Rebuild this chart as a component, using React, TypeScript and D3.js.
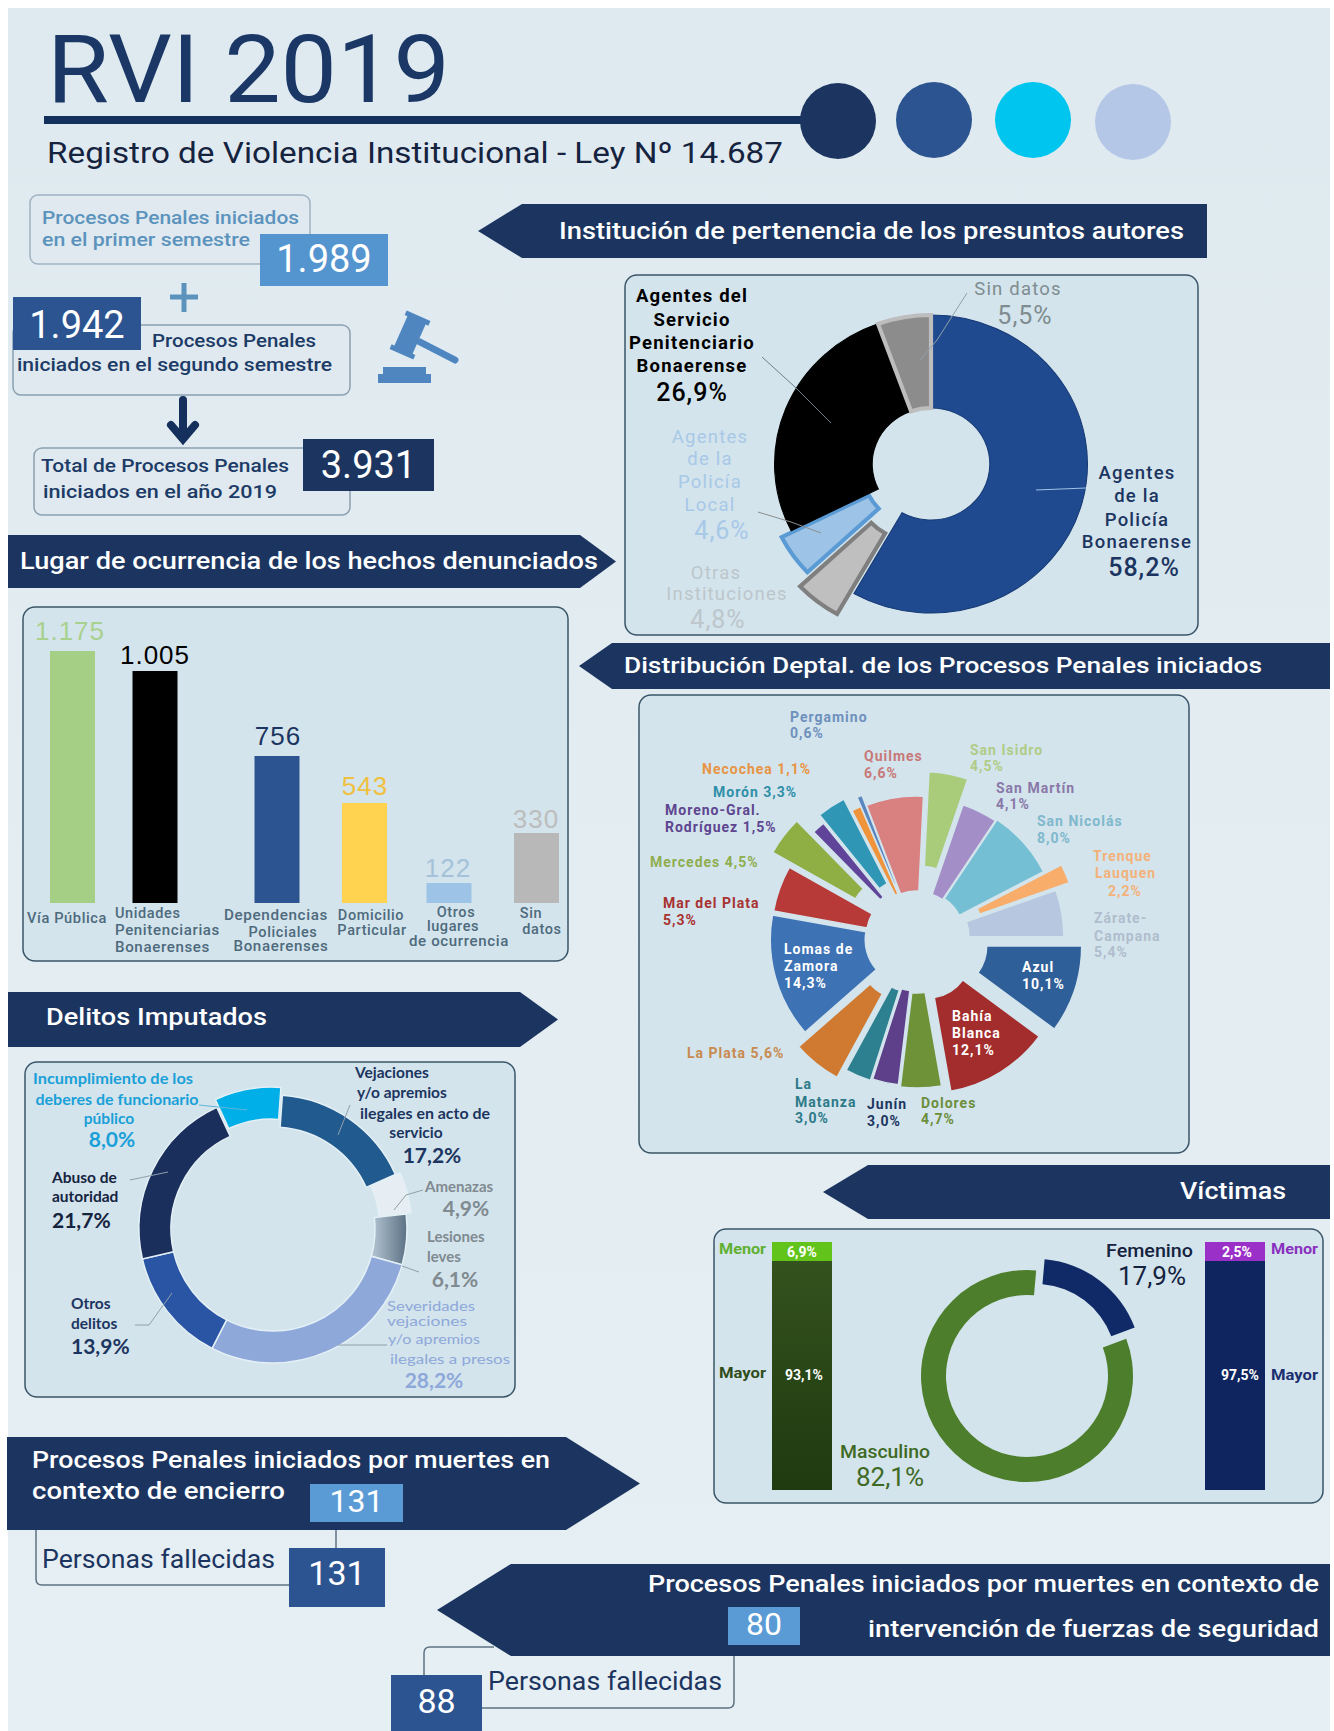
import React from 'react';
import * as d3 from 'd3';

// ---- data read from the infographic ----
const semester1 = 1989;
const semester2 = 1942;
const totalCases = 3931;
const deathsCustody = [131, 131];
const deathsForces = [80, 88];

const authorNames = ['Policía Bonaerense', 'Otras Instituciones', 'Policía Local', 'Servicio Penitenciario', 'Sin datos'];
const authorValues = [58.2, 4.8, 4.6, 26.9, 5.5];
const authorFill = ['#1f4a8f', '#bfbfbf', '#9dc3e6', '#000000', '#8c8c8c'];
const authorStroke = ['#173a75', '#7f7f7f', '#5b9bd5', '#000000', '#bdbdbd'];
const authorExplode = [0, 26, 11, 0, 0];

const placeNames = ['Vía Pública', 'Unidades', 'Dependencias', 'Domicilio', 'Otros', 'Sin datos'];
const placeValues = [1175, 1005, 756, 543, 122, 330];
const placeFill = ['#a4cf85', '#000000', '#2c5491', '#ffd34f', '#9dc3e6', '#b8b8b8'];
const placeText = ['#a9d18e', '#000000', '#1c3560', '#f0c040', '#a5c2da', '#bdbdbd'];

const deptNames = ['Azul', 'Bahía Blanca', 'Dolores', 'Junín', 'La Matanza', 'La Plata', 'Lomas de Zamora', 'Mar del Plata', 'Mercedes', 'Moreno-Gral. Rodríguez', 'Morón', 'Necochea', 'Pergamino', 'Quilmes', 'San Isidro', 'San Martín', 'San Nicolás', 'Trenque Lauquen', 'Zárate-Campana'];
const deptValues = [10.1, 12.1, 4.7, 3.0, 3.0, 5.6, 14.3, 5.3, 4.5, 1.5, 3.3, 1.1, 0.6, 6.6, 4.5, 4.1, 8.0, 2.2, 5.4];
const deptFill = ['#2f5f98', '#a32d2c', '#6e9238', '#5d3f8a', '#2d8090', '#cf7a30', '#3d72b5', '#b83a38', '#8fae44', '#60449a', '#2f97b5', '#f0943c', '#5a86c0', '#d98080', '#a9cc7a', '#a48ec8', '#75bfd4', '#f9ad6a', '#b7c7e0'];
const deptExplode = [26, 18, 10, 8, 10, 21, 7, 6, 28, 8, 17, 3, 13, 2, 27, 1, 3, 22, 7];

const crimeNames = ['Vejaciones', 'Amenazas', 'Lesiones leves', 'Severidades', 'Otros delitos', 'Abuso de autoridad', 'Incumplimiento'];
const crimeValues = [17.2, 4.9, 6.1, 28.2, 13.9, 21.7, 8.0];
const crimeFill = ['#215a8e', '#e6edf3', 'url(#lesiones)', '#8ea8da', '#2a55a5', '#1a2f5c', '#00aee8'];
const crimeExplode = [0, 5, 0, 0, 0, 0, 8];

const genderValues = [82.1, 17.9];
const genderFill = ['#4d7e2b', '#0f2a66'];
const genderExplode = [0, 14];
const ageMen = [6.9, 93.1];
const ageWomen = [2.5, 97.5];

// ---- formats ----
const locale = d3.formatLocale({ decimal: ',', thousands: '.', grouping: [3], currency: ['$', ''] });
const fmtInt = locale.format(',d');
const fmtPct = (v: number) => locale.format('.1f')(v) + '%';

const NAVY = '#1c3560';
const FONT = 'Roboto';
const LATO = 'Lato';
const PANEL = '#d3e4ec';

const T = ({ x, y, w, s = 16, c = NAVY, a = 'start', b = 400, f = FONT, ls, children }: any) => (
  <text x={x} y={y} fontSize={s} fill={c} textAnchor={a} fontWeight={b} fontFamily={f} letterSpacing={ls}
    textLength={w} lengthAdjust={w ? 'spacingAndGlyphs' : undefined}>{children}</text>
);

// rows are [text, x, y] or [text, x, y, width]
const Rows = ({ rows, ...rest }: any) => rows.map((r: any, i: number) => (
  <T key={i} x={r[1]} y={r[2]} w={r[3]} {...rest}>{r[0]}</T>
));

const Panel = ({ x, y, w, h, stroke = '#3a5568', fill = PANEL, r = 12 }: any) => (
  <rect x={x} y={y} width={w} height={h} rx={r} fill={fill} stroke={stroke} strokeWidth={1.5} />
);

const NumBox = ({ x, y, w, h, fill, value, size = 38, base }: any) => (
  <g>
    <rect x={x} y={y} width={w} height={h} fill={fill} />
    <text x={x + w / 2} y={base} fontSize={size} fill="#fff" textAnchor="middle" fontFamily={FONT}>{value}</text>
  </g>
);

// dir = 1 points right, dir = -1 points left
const Banner = ({ x0, x1, y0, y1, tip, dir }: any) => {
  const ym = (y0 + y1) / 2;
  const pts = dir > 0
    ? [[x0, y0], [tip, y0], [x1, ym], [tip, y1], [x0, y1]]
    : [[x1, y0], [x1, y1], [tip, y1], [x0, ym], [tip, y0]];
  return <polygon points={pts.map(p => p.join(',')).join(' ')} fill={NAVY} />;
};

const Leader = ({ d, c = '#8fa0ad', w = 1 }: any) => (
  <polyline points={d.map((p: number[]) => p.join(',')).join(' ')} fill="none" stroke={c} strokeWidth={w} />
);

const makeSlices = (values: number[], startDeg: number) =>
  d3.pie<number>().value(d => d).sort(null)
    .startAngle((startDeg * Math.PI) / 180)
    .endAngle((startDeg * Math.PI) / 180 + 2 * Math.PI)(values);

const shift = (s: any, e: number) => {
  const m = (s.startAngle + s.endAngle) / 2;
  return `translate(${Math.sin(m) * e},${-Math.cos(m) * e})`;
};

// ---- bars: the original's bars aren't drawn to scale, so the scale runs through each of them ----
const barX = d3.scaleOrdinal<string, number>().domain(placeNames).range([50, 132.5, 254.5, 342, 426.5, 514]);
const barH = d3.scaleLinear().domain([0, 122, 330, 543, 756, 1005, 1175]).range([0, 20, 70, 100, 147, 232, 252]);
const BAR_BASE = 903;
const BAR_W = 45;
const barLabelX = [70, 155, 278, 365, 448, 536];
const barLabelGap = [11, 7, 11, 8, 6, 5];

// same for the age columns: both "Menor" bands have the same height in the original
const ageY = d3.scaleLinear().domain([0, 2.5, 6.9, 100]).range([1490, 1471, 1471, 1242]);

const authorArc = d3.arc<any>().innerRadius(56).outerRadius(149);
const deptArc = d3.arc<any>().innerRadius(45).outerRadius(140);
const crimeArc = d3.arc<any>().innerRadius(102).outerRadius(134);
const genderArc = d3.arc<any>().innerRadius(81).outerRadius(106);

const deptLabels = [
  { c: '#6e90bd', rows: [['Pergamino', 790, 722], [fmtPct(deptValues[12]), 790, 738]] },
  { c: '#b0cc86', rows: [['San Isidro', 970, 755], [fmtPct(deptValues[14]), 970, 771]] },
  { c: '#c87878', rows: [['Quilmes', 864, 761], [fmtPct(deptValues[13]), 864, 778]] },
  { c: '#8a78a8', rows: [['San Martín', 996, 793], [fmtPct(deptValues[15]), 996, 809]] },
  { c: '#e89444', rows: [['Necochea ' + fmtPct(deptValues[11]), 702, 774]] },
  { c: '#2f8fa8', rows: [['Morón ' + fmtPct(deptValues[10]), 713, 797]] },
  { c: '#5d4590', rows: [['Moreno-Gral.', 665, 815], ['Rodríguez ' + fmtPct(deptValues[9]), 665, 832]] },
  { c: '#7fb8cc', rows: [['San Nicolás', 1037, 826], [fmtPct(deptValues[16]), 1037, 843]] },
  { c: '#8fae50', rows: [['Mercedes ' + fmtPct(deptValues[8]), 650, 867]] },
  { c: '#f3b27a', rows: [['Trenque', 1093, 861], ['Lauquen', 1095, 878], [fmtPct(deptValues[17]), 1108, 896]] },
  { c: '#a83232', rows: [['Mar del Plata', 663, 908], [fmtPct(deptValues[7]), 663, 925]] },
  { c: '#b0bdcc', rows: [['Zárate-', 1094, 923], ['Campana', 1094, 941], [fmtPct(deptValues[18]), 1094, 957]] },
  { c: '#ffffff', rows: [['Lomas de', 784, 954], ['Zamora', 784, 971], [fmtPct(deptValues[6]), 784, 988]] },
  { c: '#ffffff', rows: [['Azul', 1022, 972], [fmtPct(deptValues[0]), 1022, 989]] },
  { c: '#ffffff', rows: [['Bahía', 952, 1021], ['Blanca', 952, 1038], [fmtPct(deptValues[1]), 952, 1055]] },
  { c: '#c98a50', rows: [['La Plata ' + fmtPct(deptValues[5]), 687, 1058]] },
  { c: '#2d7a88', rows: [['La', 795, 1089], ['Matanza', 795, 1107], [fmtPct(deptValues[4]), 795, 1123]] },
  { c: '#1c3560', rows: [['Junín', 867, 1109], [fmtPct(deptValues[3]), 867, 1126]] },
  { c: '#6b8e3c', rows: [['Dolores', 921, 1108], [fmtPct(deptValues[2]), 921, 1124]] },
];

export default function App() {
  const authorSlices = makeSlices(authorValues, 0);
  const deptSlices = makeSlices(deptValues, 90);
  const crimeSlices = makeSlices(crimeValues, 4);
  const genderSlices = makeSlices(genderValues, 69.4);

  return (
    <svg width={1334} height={1731} style={{ position: 'absolute', left: 0, top: 0, background: '#fff' }}>
      <defs>
        <linearGradient id="bg" x1="0" x2="0" y1="0" y2="1">
          <stop offset="0" stopColor="#dfeaf0" />
          <stop offset="1" stopColor="#e6eff3" />
        </linearGradient>
        <linearGradient id="lesiones" x1="0" x2="1" y1="0" y2="0">
          <stop offset="0" stopColor="#b4c6d3" />
          <stop offset="1" stopColor="#5c7184" />
        </linearGradient>
        <linearGradient id="mayorGreen" x1="0" x2="0" y1="0" y2="1">
          <stop offset="0" stopColor="#35541e" />
          <stop offset="1" stopColor="#1f3a10" />
        </linearGradient>
      </defs>
      <rect x={8} y={8} width={1322} height={1723} fill="url(#bg)" />

      {/* header */}
      <T x={47} y={102} s={95} w={403} c="#1a3766">RVI 2019</T>
      <rect x={44} y={116} width={780} height={8} fill="#14305c" />
      {['#1c3560', '#2c5491', '#00c5ee', '#b4c7e7'].map((c, i) => (
        <circle key={c} cx={[838, 934, 1033, 1133][i]} cy={[121, 120, 120, 122][i]} r={38} fill={c} />
      ))}
      <T x={47} y={163} s={30} w={736} c="#15233f">Registro de Violencia Institucional - Ley Nº 14.687</T>

      {/* totals */}
      <Panel x={30} y={195} w={280} h={69} r={8} fill="#dfe9ef" stroke="#9fb3c2" />
      <Rows rows={[['Procesos Penales iniciados', 42, 224, 257], ['en el primer semestre', 42, 246, 208]]} s={18} b={500} c="#5b93bd" />
      <NumBox x={260} y={234} w={128} h={52} fill="#5494cf" value={fmtInt(semester1)} base={272} />
      <path d="M170 297H198M184 283V312" stroke="#5b93bd" strokeWidth={5} fill="none" />

      <Panel x={13} y={325} w={337} h={70} r={8} fill="#dfe9ef" stroke="#8ba0b0" />
      <NumBox x={13} y={297} w={128} h={53} fill="#2c5491" value={fmtInt(semester2)} base={338} />
      <Rows rows={[['Procesos Penales', 152, 347, 164], ['iniciados en el segundo semestre', 17, 371, 315]]} s={18} b={500} c="#1c3b66" />

      <path d="M183 400V438M171 425L183 439L195 425" stroke="#15305c" strokeWidth={8} fill="none" strokeLinecap="round" />

      <Panel x={34} y={448} w={316} h={67} r={8} fill="#dfe9ef" stroke="#8ba0b0" />
      <NumBox x={303} y={439} w={131} h={52} fill={NAVY} value={fmtInt(totalCases)} base={478} />
      <Rows rows={[['Total de Procesos Penales', 41, 472, 248], ['iniciados en el año 2019', 43, 498, 234]]} s={18} b={500} c="#1c3b66" />

      {/* gavel */}
      <g fill="#4f86c0">
        <rect x={378} y={374} width={53} height={9} />
        <rect x={383} y={367} width={43} height={7} />
        <g transform="translate(410,335) rotate(24)">
          <rect x={-10} y={-18} width={20} height={36} />
          <rect x={-13} y={-21} width={26} height={5} />
          <rect x={-13} y={16} width={26} height={5} />
        </g>
        <line x1={420} y1={342} x2={455} y2={360} stroke="#4f86c0" strokeWidth={7} strokeLinecap="round" />
      </g>

      {/* authors */}
      <Banner x0={478} x1={1207} y0={204} y1={258} tip={522} dir={-1} />
      <T x={559} y={239} s={23} w={625} c="#fff" b={500}>Institución de pertenencia de los presuntos autores</T>
      <Panel x={625} y={275} w={573} h={360} />
      <g transform="translate(931,464) scale(1.05,1)">
        {authorSlices.map((s, i) => (
          <path key={authorNames[i]} d={authorArc(s) as string} transform={shift(s, authorExplode[i])}
            fill={authorFill[i]} stroke={authorStroke[i]} strokeWidth={i === 1 || i === 2 || i === 4 ? 4 : 1} />
        ))}
      </g>
      <Leader d={[[1036, 490], [1086, 488]]} c="#9dc3e6" />
      <Leader d={[[967, 293], [937, 340], [920, 360]]} />
      <Leader d={[[762, 357], [795, 387], [831, 423]]} c="#6f7f8a" />
      <Leader d={[[758, 512], [791, 522], [821, 533]]} c="#8b8f90" />
      <Rows rows={[['Agentes del', 692, 302], ['Servicio', 692, 326], ['Penitenciario', 692, 349], ['Bonaerense', 692, 372]]} s={18.5} ls={1.2} b={700} c="#000" a="middle" />
      <T x={692} y={401} s={25} ls={1} c="#000" a="middle" b={500}>{fmtPct(authorValues[3])}</T>
      <T x={1018} y={295} s={18.5} ls={1.2} c="#7f8c90" a="middle">Sin datos</T>
      <T x={1025} y={324} s={25} ls={1} c="#7f8c90" a="middle">{fmtPct(authorValues[4])}</T>
      <Rows rows={[['Agentes', 710, 443], ['de la', 710, 465], ['Policía', 710, 488], ['Local', 710, 511]]} s={18.5} ls={1.2} c="#a8c8e8" a="middle" />
      <T x={722} y={539} s={25} ls={1} c="#a8c8e8" a="middle">{fmtPct(authorValues[2])}</T>
      <Rows rows={[['Otras', 716, 579], ['Instituciones', 727, 600]]} s={18.5} ls={1.2} c="#bcc6cb" a="middle" />
      <T x={718} y={628} s={25} ls={1} c="#bcc6cb" a="middle">{fmtPct(authorValues[1])}</T>
      <Rows rows={[['Agentes', 1137, 479], ['de la', 1137, 502], ['Policía', 1137, 526], ['Bonaerense', 1137, 548]]} s={18.5} ls={1.2} b={500} a="middle" />
      <T x={1144} y={576} s={25} ls={1} a="middle" b={500}>{fmtPct(authorValues[0])}</T>

      {/* places */}
      <Banner x0={8} x1={616} y0={535} y1={588} tip={580} dir={1} />
      <T x={20} y={569} s={23} w={578} c="#fff" b={500}>Lugar de ocurrencia de los hechos denunciados</T>
      <Panel x={23} y={607} w={545} h={354} />
      {placeNames.map((n, i) => (
        <g key={n}>
          <rect x={barX(n)} y={BAR_BASE - barH(placeValues[i])} width={BAR_W} height={barH(placeValues[i])} fill={placeFill[i]} />
          <text x={barLabelX[i]} y={BAR_BASE - barH(placeValues[i]) - barLabelGap[i]} textAnchor="middle" fontSize={26}
            letterSpacing={1} fontFamily="Liberation Sans" fill={placeText[i]}>{fmtInt(placeValues[i])}</text>
        </g>
      ))}
      <Rows s={14.5} b={500} ls={0.6} c="#4e6a7d" rows={[['Vía Pública', 27, 923, 80], ['Unidades', 115, 918], ['Penitenciarias', 115, 935, 105], ['Bonaerenses', 115, 952, 95]]} />
      <Rows s={14.5} b={500} ls={0.6} c="#4e6a7d" a="middle" rows={[
        ['Dependencias', 276, 920, 104], ['Policiales', 283, 937], ['Bonaerenses', 281, 951, 95],
        ['Domicilio', 371, 920], ['Particular', 372, 935], ['Otros', 456, 917], ['lugares', 453, 931],
        ['de ocurrencia', 459, 946, 100], ['Sin', 531, 918], ['datos', 542, 934],
      ]} />

      {/* departments */}
      <Banner x0={579} x1={1330} y0={643} y1={689} tip={612} dir={-1} />
      <T x={624} y={673} s={22} w={638} c="#fff" b={500}>Distribución Deptal. de los Procesos Penales iniciados</T>
      <Panel x={639} y={695} w={550} h={458} />
      <g transform="translate(917,938)">
        {deptSlices.map((s, i) => (
          <path key={deptNames[i]} d={deptArc(s) as string} transform={shift(s, deptExplode[i])}
            fill={deptFill[i]} stroke={PANEL} strokeWidth={1.5} />
        ))}
      </g>
      {deptLabels.map((l, i) => <Rows key={i} rows={l.rows} s={14} ls={1} b={700} c={l.c} />)}

      {/* crimes */}
      <Banner x0={8} x1={558} y0={992} y1={1047} tip={520} dir={1} />
      <T x={46} y={1025} s={23} w={221} c="#fff" b={500}>Delitos Imputados</T>
      <Panel x={25} y={1062} w={490} h={335} />
      <g transform="translate(273,1229)">
        {crimeSlices.map((s, i) => (
          <path key={crimeNames[i]} d={crimeArc(s) as string} transform={shift(s, crimeExplode[i])}
            fill={crimeFill[i]} stroke="#e4f0f6" strokeWidth={1.5} />
        ))}
      </g>
      <Leader d={[[350, 1105], [338, 1135]]} />
      <Leader d={[[130, 1180], [168, 1172]]} />
      <Leader d={[[135, 1325], [149, 1325], [172, 1293]]} />
      <Leader d={[[338, 1345], [387, 1345]]} />
      <Leader d={[[419, 1272], [402, 1266]]} />
      <Leader d={[[423, 1190], [406, 1195], [394, 1210]]} />
      <Leader d={[[199, 1105], [247, 1110]]} c="#5fb6d8" />
      <Rows rows={[['Incumplimiento de los', 113, 1084, 160], ['deberes de funcionario', 117, 1105, 163], ['público', 109, 1124]]} s={15.5} b={700} f={LATO} c="#1aa0d8" a="middle" />
      <T x={112} y={1147} s={21} b={700} f={LATO} c="#1aa0d8" a="middle">{fmtPct(crimeValues[6])}</T>
      <Rows rows={[['Vejaciones', 355, 1078], ['y/o apremios', 357, 1098], ['ilegales en acto de', 360, 1119, 130]]} s={15.5} b={700} f={LATO} />
      <T x={416} y={1138} s={15.5} b={700} f={LATO} a="middle">servicio</T>
      <T x={432} y={1163} s={21} b={700} f={LATO} a="middle">{fmtPct(crimeValues[0])}</T>
      <T x={425} y={1192} s={15} b={700} f={LATO} c="#808a90">Amenazas</T>
      <T x={466} y={1216} s={21} b={700} f={LATO} c="#808a90" a="middle">{fmtPct(crimeValues[1])}</T>
      <Rows rows={[['Lesiones', 427, 1242], ['leves', 427, 1262]]} s={15} f={LATO} b={700} c="#808a90" />
      <T x={455} y={1287} s={21} b={700} f={LATO} c="#808a90" a="middle">{fmtPct(crimeValues[2])}</T>
      <Rows rows={[['Severidades', 387, 1311, 88], ['vejaciones', 387, 1326, 80], ['y/o apremios', 388, 1344, 92], ['ilegales a presos', 390, 1364, 120]]} s={14} c="#8ea8da" f={LATO} />
      <T x={434} y={1388} s={21} b={700} f={LATO} c="#8ea8da" a="middle">{fmtPct(crimeValues[3])}</T>
      <Rows rows={[['Abuso de', 52, 1183], ['autoridad', 52, 1202]]} s={15.5} b={700} f={LATO} c="#15233f" />
      <T x={52} y={1228} s={21} b={700} f={LATO} c="#15233f">{fmtPct(crimeValues[5])}</T>
      <Rows rows={[['Otros', 71, 1309], ['delitos', 71, 1329]]} s={15.5} b={700} f={LATO} />
      <T x={71} y={1354} s={21} b={700} f={LATO}>{fmtPct(crimeValues[4])}</T>

      {/* victims */}
      <Banner x0={823} x1={1330} y0={1165} y1={1219} tip={868} dir={-1} />
      <T x={1180} y={1199} s={23} w={106} c="#fff" b={500}>Víctimas</T>
      <Panel x={714} y={1229} w={609} h={274} />
      <rect x={772} y={ageY(100)} width={60} height={ageY(0) - ageY(100)} fill="url(#mayorGreen)" />
      <rect x={772} y={ageY(100)} width={60} height={ageY(0) - ageY(ageMen[0])} fill="#62c41a" />
      <rect x={1205} y={ageY(100)} width={60} height={ageY(0) - ageY(100)} fill="#0f2560" />
      <rect x={1205} y={ageY(100)} width={60} height={ageY(0) - ageY(ageWomen[0])} fill="#9b30c8" />
      <T x={802} y={1257} s={14} b={700} c="#fff" a="middle">{fmtPct(ageMen[0])}</T>
      <T x={804} y={1380} s={14} b={700} c="#fff" a="middle">{fmtPct(ageMen[1])}</T>
      <T x={1237} y={1257} s={14} b={700} c="#fff" a="middle">{fmtPct(ageWomen[0])}</T>
      <T x={1240} y={1380} s={14} b={700} c="#fff" a="middle">{fmtPct(ageWomen[1])}</T>
      <T x={719} y={1254} s={15} w={47} b={700} c="#5fb030">Menor</T>
      <T x={719} y={1378} s={15} w={47} b={700} c="#2f4d1a">Mayor</T>
      <T x={1271} y={1254} s={15} w={47} b={700} c="#8a30c0">Menor</T>
      <T x={1271} y={1380} s={15} w={47} b={700} c="#1c2f70">Mayor</T>
      <g transform="translate(1027,1376)">
        {genderSlices.map((s, i) => (
          <path key={i} d={genderArc(s) as string} transform={shift(s, genderExplode[i])} fill={genderFill[i]} />
        ))}
      </g>
      <T x={1106} y={1257} s={18} w={87} b={500} c="#15233f">Femenino</T>
      <T x={1152} y={1285} s={26} a="middle" c="#15233f">{fmtPct(genderValues[1])}</T>
      <T x={840} y={1458} s={18} w={90} b={500} c="#3f6a25">Masculino</T>
      <T x={890} y={1486} s={26} a="middle" c="#3f6a25">{fmtPct(genderValues[0])}</T>

      {/* deaths in custody */}
      <path d="M36 1530V1579Q36 1585 42 1585H289M336 1530V1548" fill="none" stroke="#5d7284" strokeWidth={1.5} />
      <Banner x0={7} x1={640} y0={1437} y1={1530} tip={566} dir={1} />
      <T x={32} y={1468} s={24} w={518} c="#fff" b={500}>Procesos Penales iniciados por muertes en</T>
      <T x={32} y={1499} s={24} w={253} c="#fff" b={500}>contexto de encierro</T>
      <NumBox x={310} y={1484} w={93} h={38} fill="#5b9bd5" value={deathsCustody[0]} size={32} base={1512} />
      <T x={42} y={1568} s={25} w={233}>Personas fallecidas</T>
      <NumBox x={289} y={1548} w={96} h={59} fill="#2c5491" value={deathsCustody[1]} size={34} base={1585} />

      {/* deaths by security forces */}
      <path d="M494 1647H430Q424 1647 424 1653V1675M734 1656V1702Q734 1708 728 1708H482" fill="none" stroke="#5d7284" strokeWidth={1.5} />
      <Banner x0={437} x1={1330} y0={1564} y1={1656} tip={511} dir={-1} />
      <T x={648} y={1592} s={24} w={671} c="#fff" b={500}>Procesos Penales iniciados por muertes en contexto de</T>
      <T x={868} y={1637} s={24} w={451} c="#fff" b={500}>intervención de fuerzas de seguridad</T>
      <NumBox x={728} y={1607} w={72} h={38} fill="#5b9bd5" value={deathsForces[0]} size={32} base={1635} />
      <T x={488} y={1690} s={25} w={234}>Personas fallecidas</T>
      <NumBox x={391} y={1675} w={91} h={56} fill="#2c5491" value={deathsForces[1]} size={34} base={1713} />
    </svg>
  );
}
